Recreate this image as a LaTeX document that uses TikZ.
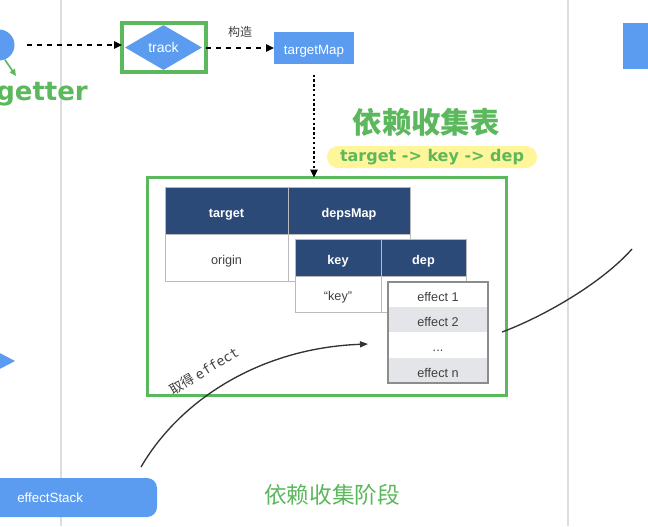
\documentclass[tikz,border=0pt]{standalone}
\usepackage{fontspec}
\setmainfont{Liberation Sans}
\newfontfamily\cjk{Noto Sans CJK SC}
\newfontfamily\dvs{DejaVu Sans}
\newfontfamily\dvm{DejaVu Sans Mono}
\usetikzlibrary{arrows.meta,shapes.geometric}
\definecolor{vblue}{HTML}{5B9CF0}
\definecolor{vgreen}{HTML}{5CB85C}
\definecolor{hdr}{HTML}{2C4A78}
\definecolor{cellgray}{HTML}{E3E5E8}
\definecolor{gridgray}{HTML}{BBBBBB}
\definecolor{sepgray}{HTML}{DDDDDD}
\definecolor{hl}{HTML}{FFF59A}
\newcommand\pxu[1]{#1*0.75pt}
\tikzset{
  box/.style={rectangle,inner sep=0pt,outer sep=0pt},
  ctext/.style={text height=1em,text depth=0pt},
  bluebox/.style={box,ctext,fill=vblue,text=white,font=\fontsize{10}{12}\selectfont},
  hcell/.style={box,ctext,fill=hdr,draw=gridgray,line width=0.5pt,text=white,font=\fontsize{9.5}{11}\selectfont\bfseries},
  bcell/.style={box,ctext,fill=white,draw=gridgray,line width=0.6pt,text=black!75,font=\fontsize{9.5}{11}\selectfont},
  ecell/.style={box,ctext,text=black!75,font=\fontsize{9.5}{11}\selectfont,minimum width=\pxu{100},minimum height=\pxu{25.25}},
  arr/.style={-{Triangle[length=6pt,width=5.5pt]},line width=1.5pt},
  dash1/.style={dash pattern=on 4pt off 3.5pt},
  dot1/.style={dash pattern=on 1.8pt off 1.8pt},
  curve/.style={-{Triangle[length=6pt,width=4.5pt]},line width=1pt,black!80},
}
\begin{document}
\begin{tikzpicture}[x=0.75pt,y=-0.75pt]
\useasboundingbox (0,0) rectangle (648,526);
\clip (0,0) rectangle (648,526);
\fill[white] (0,0) rectangle (648,526);
% separators
\coordinate (s1t) at (61,0); \coordinate (s1b) at (61,526);
\coordinate (s2t) at (568,0); \coordinate (s2b) at (568,526);
\draw[sepgray,line width=1.5pt] (s1t) -- (s1b);
\draw[sepgray,line width=1.5pt] (s2t) -- (s2b);

% top row
\node[circle,fill=vblue,minimum size=\pxu{31},inner sep=0pt] (c) at (-1,45) {};
\coordinate (gt) at (16,76);
\draw[vgreen,line width=1.2pt,-{Triangle[length=5pt,width=4.5pt]}] (c.-68) -- (gt);
\node[anchor=base west,text=vgreen,font=\dvs\bfseries\fontsize{19.5}{22}\selectfont,inner sep=0pt] (getter) at (-4,100) {getter};

\node[box,draw=vgreen,line width=2.6pt,minimum width=\pxu{84},minimum height=\pxu{49}] (tbox) at (164,47.5) {};
\node[diamond,aspect=1.7,fill=vblue,inner sep=0pt,minimum width=\pxu{77},minimum height=\pxu{45},text=white,font=\fontsize{10.5}{12}\selectfont] (track) at (163.5,47.5) {track};
\coordinate (a1s) at (27,45);
\draw[arr,dash1] (a1s) -- (tbox.west |- 0,45);

\node[bluebox,minimum width=\pxu{80},minimum height=\pxu{32}] (tm) at (314,48) {targetMap};
\draw[arr,dash1] (tbox.east |- 0,48) -- (tm.west);
\node[text=black!75,font=\cjk\fontsize{9}{11}\selectfont,inner sep=0pt] (gz) at (240,32) {构造};

% title
\node[text=vgreen,font=\cjk\bfseries\fontsize{22}{26}\selectfont,inner sep=0pt] (title) at (426,122) {依赖收集表};
\node[box,fill=hl,rounded corners=\pxu{11},minimum width=\pxu{210},minimum height=\pxu{22},text=vgreen,font=\dvs\bfseries\fontsize{12}{14}\selectfont] (path) at (432,157) {target -> key -> dep};

% green frame
\node[box,draw=vgreen,line width=1.7pt,minimum width=\pxu{359},minimum height=\pxu{218}] (frame) at (327,286.5) {};
\draw[arr,dot1,line width=1.9pt] ([yshift=-8pt]tm.south) -- (frame.north -| tm.south);

% table 1
\node[hcell,minimum width=\pxu{123},minimum height=\pxu{47}] (t1a) at (226.5,210.5) {target};
\node[hcell,minimum width=\pxu{122},minimum height=\pxu{47}] (t1b) at (349,210.5) {depsMap};
\node[bcell,minimum width=\pxu{123},minimum height=\pxu{47}] (t1c) at (226.5,257.5) {origin};
\node[bcell,minimum width=\pxu{122},minimum height=\pxu{47}] (t1d) at (349,257.5) {};
% table 2
\node[hcell,minimum width=\pxu{86},minimum height=\pxu{37}] (t2a) at (338,257.5) {key};
\node[hcell,minimum width=\pxu{85},minimum height=\pxu{37}] (t2b) at (423.5,257.5) {dep};
\node[bcell,minimum width=\pxu{86},minimum height=\pxu{36}] (t2c) at (338,294) {“key”};
\node[bcell,minimum width=\pxu{85},minimum height=\pxu{36}] (t2d) at (423.5,294) {};
% effects
\node[ecell,fill=white] (e1) at (438,294.6) {effect 1};
\node[ecell,fill=cellgray] (e2) at (438,319.9) {effect 2};
\node[ecell,fill=white] (e3) at (438,345.1) {...};
\node[ecell,fill=cellgray] (e4) at (438,370.4) {effect n};
\draw[black!45,line width=1.1pt] (e1.north west) rectangle (e4.south east);

% right side
\node[box,fill=vblue,minimum width=\pxu{40},minimum height=\pxu{46}] (rb) at (643,46) {};
\coordinate (r1) at (502,332);
\coordinate (r2) at (632,249);
\draw[line width=1pt,black!80] (r1) .. controls (540,318) and (600,285) .. (r2);

% left triangle
\coordinate (ta) at (-6,350); \coordinate (tb) at (15,361); \coordinate (tc) at (-6,372);
\fill[vblue] (ta) -- (tb) -- (tc) -- cycle;

% effectStack
\node[box,fill=vblue,rounded corners=\pxu{10},minimum width=\pxu{187},minimum height=\pxu{39}] (es) at (63.5,497.5) {};
\node[anchor=west,text=white,font=\fontsize{10}{12}\selectfont,inner sep=0pt] (estxt) at (17,497.5) {effectStack};
\coordinate (cs) at (141,467);
\coordinate (ce) at (368,344);
\draw[curve] (cs) .. controls (180,400) and (260,348) .. (ce);
\node[rotate=31,text=black!75,font=\fontsize{10}{12}\selectfont,inner sep=0pt] (lbl) at (204,371) {\cjk 取得 \dvm effect};

\node[text=vgreen,font=\cjk\fontsize{17}{20}\selectfont,inner sep=0pt] (stage) at (332,495) {依赖收集阶段};
\end{tikzpicture}
\end{document}
